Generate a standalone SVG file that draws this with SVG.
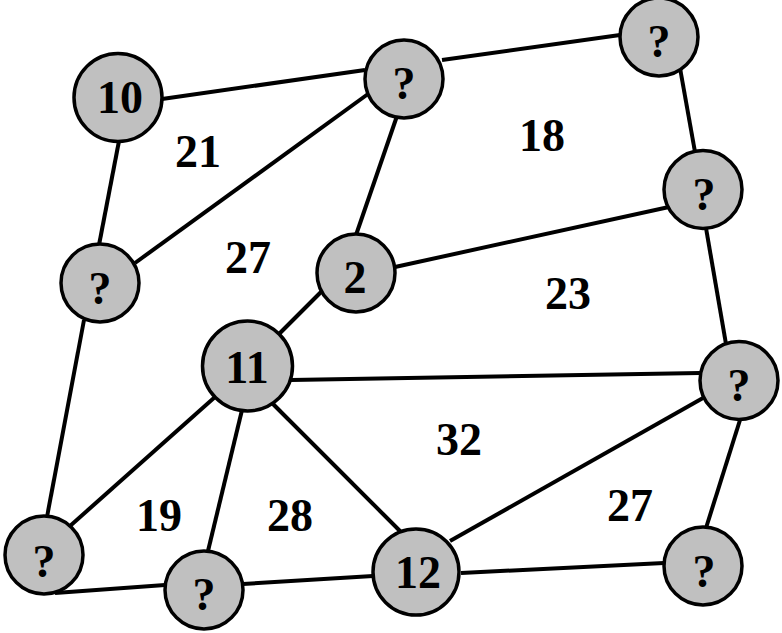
<svg xmlns="http://www.w3.org/2000/svg" width="782" height="633" viewBox="0 0 782 633">
<style>
.e{stroke:#000;stroke-width:4;fill:none}
.n{fill:#c0c0c0;stroke:#000;stroke-width:3.5}
.t{font-family:"Liberation Serif","Times New Roman",serif;font-weight:bold;font-size:46px;text-anchor:middle;fill:#000}
</style>
<rect width="782" height="633" fill="#fff"/>
<g id="edges">
<line class="e" x1="162" y1="99" x2="365" y2="70"/>
<line class="e" x1="119" y1="141" x2="99" y2="245"/>
<line class="e" x1="368" y1="94" x2="135" y2="263"/>
<line class="e" x1="397" y1="116" x2="356" y2="235"/>
<line class="e" x1="442" y1="60" x2="620" y2="35"/>
<line class="e" x1="680" y1="68" x2="695" y2="152"/>
<line class="e" x1="395" y1="267" x2="669" y2="207"/>
<line class="e" x1="706" y1="228" x2="726" y2="344"/>
<line class="e" x1="322" y1="291" x2="278" y2="335"/>
<line class="e" x1="291" y1="380" x2="700" y2="373"/>
<line class="e" x1="215" y1="397" x2="70" y2="526"/>
<line class="e" x1="242" y1="410" x2="208" y2="551"/>
<line class="e" x1="272" y1="403" x2="401" y2="532"/>
<line class="e" x1="84" y1="320" x2="47" y2="517"/>
<line class="e" x1="55" y1="593" x2="165" y2="585"/>
<line class="e" x1="243" y1="584" x2="373" y2="576"/>
<line class="e" x1="450" y1="541" x2="703" y2="398"/>
<line class="e" x1="461" y1="573" x2="664" y2="563"/>
<line class="e" x1="740" y1="420" x2="706" y2="528"/>
</g>
<g id="n10"><circle class="n" cx="118" cy="97.5" r="44"/><text class="t" x="120" y="113">10</text></g>
<g id="n_topmid"><circle class="n" cx="404" cy="79" r="39"/><text class="t" x="404" y="99">?</text></g>
<g id="n_topright"><circle class="n" cx="659" cy="37" r="39"/><text class="t" x="659" y="57">?</text></g>
<g id="n_right2"><circle class="n" cx="703" cy="189.5" r="39"/><text class="t" x="704" y="210">?</text></g>
<g id="n_left"><circle class="n" cx="100" cy="283" r="39"/><text class="t" x="100" y="304">?</text></g>
<g id="n2"><circle class="n" cx="356" cy="273" r="39"/><text class="t" x="355" y="293">2</text></g>
<g id="n11"><circle class="n" cx="247.5" cy="366" r="45"/><text class="t" x="247" y="383">11</text></g>
<g id="n_rightmid"><circle class="n" cx="739" cy="380.5" r="39"/><text class="t" x="739" y="401">?</text></g>
<g id="n_bottomleft"><circle class="n" cx="44" cy="555" r="39"/><text class="t" x="44" y="577">?</text></g>
<g id="n_bottom"><circle class="n" cx="204" cy="590" r="39"/><text class="t" x="204" y="610">?</text></g>
<g id="n12"><circle class="n" cx="416" cy="572" r="43"/><text class="t" x="418" y="588">12</text></g>
<g id="n_bottomright"><circle class="n" cx="703" cy="566" r="39"/><text class="t" x="704" y="587">?</text></g>
<g id="labels">
<text class="t" x="198" y="167">21</text>
<text class="t" x="248" y="273">27</text>
<text class="t" x="542" y="151">18</text>
<text class="t" x="568" y="309">23</text>
<text class="t" x="459" y="455">32</text>
<text class="t" x="159" y="531">19</text>
<text class="t" x="290" y="531">28</text>
<text class="t" x="630" y="521">27</text>
</g>
</svg>
